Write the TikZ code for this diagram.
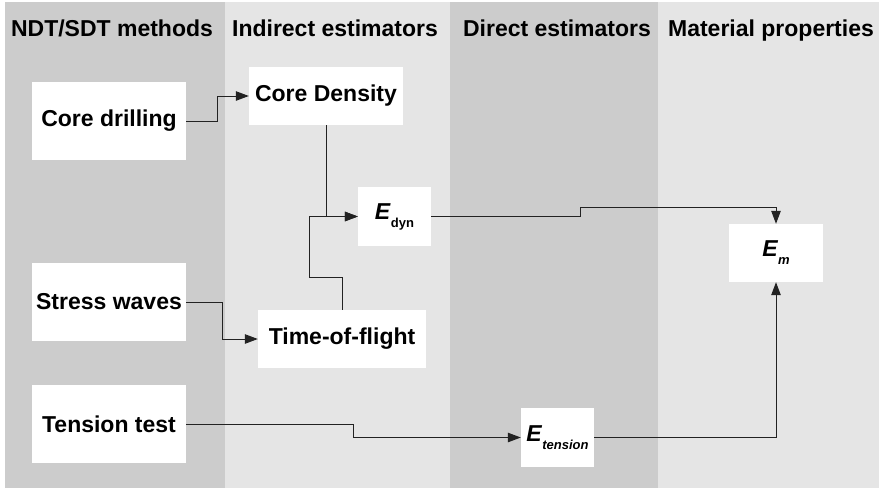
\documentclass[tikz,border=0pt]{standalone}
\usepackage{fontspec}
\setmainfont{Liberation Sans}
\usetikzlibrary{arrows.meta}

\definecolor{laneDark}{HTML}{CCCCCC}
\definecolor{laneLight}{HTML}{E5E5E5}
\definecolor{wire}{HTML}{222222}

% E with a lowered, smaller subscript
\newcommand\Emod[1]{\textit{E}\raisebox{-8pt}{\fontsize{13}{13}\selectfont #1}}

\tikzset{
  box/.style={fill=white, draw=none, inner sep=0pt, align=center,
              font=\fontsize{23}{27}\selectfont\bfseries},
  head/.style={anchor=base, inner sep=0pt,
               font=\fontsize{23}{27}\selectfont\bfseries},
  wirepath/.style={draw=wire, line width=1pt},
  link/.style={wirepath, -{Triangle[length=13pt,width=9.5pt]}},
}

\begin{document}
\begin{tikzpicture}[x=1pt, y=-1pt]
  % canvas
  \fill[white] (0,0) rectangle (880,488);
  \useasboundingbox (0,0) rectangle (880,488);

  % swim lanes
  \fill[laneDark]  (5,2)   rectangle (225,488);
  \fill[laneLight] (225,2) rectangle (450,488);
  \fill[laneDark]  (450,2) rectangle (658,488);
  \fill[laneLight] (658,2) rectangle (879,488);

  % lane headings
  \node[head] (h1) at (112,36) {NDT/SDT methods};
  \node[head] (h2) at (335,36) {Indirect estimators};
  \node[head] (h3) at (557,36) {Direct estimators};
  \node[head] (h4) at (771,36) {Material properties};

  % methods
  \node[box, minimum width=154pt, minimum height=78pt] (drill)   at (109,121) {Core drilling};
  \node[box, minimum width=154pt, minimum height=78pt] (stress)  at (109,302) {Stress waves};
  \node[box, minimum width=154pt, minimum height=78pt] (tension) at (109,424) {Tension test};

  % indirect estimators
  \node[box, minimum width=154pt, minimum height=58pt] (density) at (326,96)  {Core Density};
  \node[box, minimum width=168pt, minimum height=58pt] (tof)     at (342,339) {Time-of-flight};

  % moduli
  \node[box, minimum width=73pt, minimum height=59pt] (edyn) at (394.5,216.5) {\Emod{dyn}};
  \node[box, minimum width=73pt, minimum height=59pt] (eten) at (557.5,437.5) {\Emod{\itshape tension}};
  \node[box, minimum width=94pt, minimum height=58pt] (em)   at (776,253)     {\Emod{\itshape m}};

  % connectors
  \draw[link] (drill.east) -- ++(31,0) |- (density.west);
  \draw[link] (stress.east) -- ++(36,0) |- (tof.west);
  \draw[link] (density.south) |- (edyn.west);
  \draw[link] (tof.north) -- ++(0,-32) -- ++(-33,0) |- (edyn.west);
  \draw[link] (edyn.east) -- ++(149,0) -- ++(0,-9.5) -| (em.north);
  \draw[link] (tension.east) -- ++(167,0) |- (eten.west);
  \draw[link] (eten.east) -| (em.south);
\end{tikzpicture}
\end{document}
